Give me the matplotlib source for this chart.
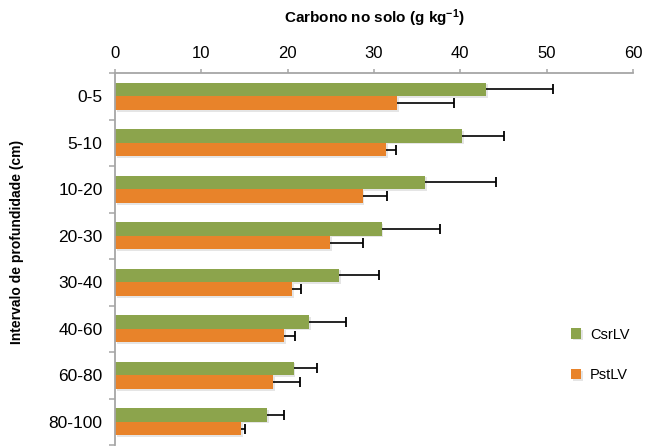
import matplotlib
matplotlib.use("Agg")
import matplotlib.pyplot as plt
import matplotlib.patheffects as pe
import numpy as np

plt.rcParams['font.family'] = ['Liberation Sans', 'DejaVu Sans']
plt.rcParams['mathtext.fontset'] = 'custom'
plt.rcParams['mathtext.rm'] = 'Liberation Sans:bold'
plt.rcParams['mathtext.bf'] = 'Liberation Sans:bold'
plt.rcParams['mathtext.default'] = 'bf'

categories = ["0-5", "5-10", "10-20", "20-30", "30-40", "40-60", "60-80", "80-100"]
csr_values = [43.0, 40.2, 35.9, 30.9, 26.0, 22.5, 20.7, 17.6]
csr_errors = [7.7, 4.9, 8.2, 6.7, 4.6, 4.2, 2.7, 2.0]
pst_values = [32.7, 31.4, 28.7, 24.9, 20.5, 19.6, 18.3, 14.6]
pst_errors = [6.6, 1.2, 2.8, 3.8, 1.1, 1.3, 3.1, 0.5]
xticks = [0, 10, 20, 30, 40, 50, 60]

green = '#8CA44C'
orange = '#E8832A'
axis_gray = '#A6A6A6'

fig = plt.figure(figsize=(6.45, 4.46), dpi=100)
ax = fig.add_axes([115/645, 1/446, (633-115)/645, (445-73)/446])

y = np.arange(len(categories))
h = 0.295
shadow = [pe.SimplePatchShadow(offset=(1.2, -1.2), shadow_rgbFace='#999999', alpha=0.25), pe.Normal()]

b1 = ax.barh(y - h/2, csr_values, height=h, color=green, label='CsrLV', zorder=2)
b2 = ax.barh(y + h/2, pst_values, height=h, color=orange, label='PstLV', zorder=2)
for bar in list(b1) + list(b2):
    bar.set_path_effects(shadow)

for vals, errs, yy in [(csr_values, csr_errors, y - h/2), (pst_values, pst_errors, y + h/2)]:
    v = np.array(vals)
    e = np.array(errs)
    ax.hlines(yy, v, v + e, colors='black', linewidth=1.2, zorder=3)
    ax.plot(v + e, yy, linestyle='none', marker='|', markersize=7.5,
            markeredgewidth=1.3, color='black', zorder=3)

ax.set_xlim(0, 60)
ax.set_ylim(len(categories) - 0.5, -0.5)
ax.xaxis.tick_top()
ax.set_xticks(xticks)
ax.set_xticklabels([str(t) for t in xticks], fontsize=12)
ax.tick_params(axis='x', which='major', direction='out', length=3, width=1.1,
               color=axis_gray, pad=6)

ax.set_yticks(y)
ax.set_yticklabels(categories, fontsize=12.5)
ax.set_yticks(np.arange(-0.5, len(categories) + 0.5, 1), minor=True)
ax.tick_params(axis='y', which='major', length=0, pad=9)
ax.tick_params(axis='y', which='minor', direction='out', length=4, width=1.1, color=axis_gray)

for s in ['right', 'bottom']:
    ax.spines[s].set_visible(False)
for s in ['top', 'left']:
    ax.spines[s].set_color(axis_gray)
    ax.spines[s].set_linewidth(1.3)

fig.text((115 + 633) / 2 / 645, 1 - 18/446, r'Carbono no solo (g kg$^{-1}$)',
         ha='center', va='center', fontsize=11, fontweight='bold')
fig.text(17/645, 1 - 242/446, 'Intervalo de profundidade (cm)', rotation=90,
         ha='center', va='center', fontsize=10, fontweight='bold')

fig.legend(handles=[b1, b2], labels=['CsrLV', 'PstLV'], loc='center left',
           bbox_to_anchor=(571/645, 1 - 355/446), frameon=False, fontsize=10.5,
           handlelength=0.7, handleheight=0.7, handletextpad=0.6,
           labelspacing=1.85, borderpad=0, borderaxespad=0)

fig.savefig('out.png', dpi=100)
